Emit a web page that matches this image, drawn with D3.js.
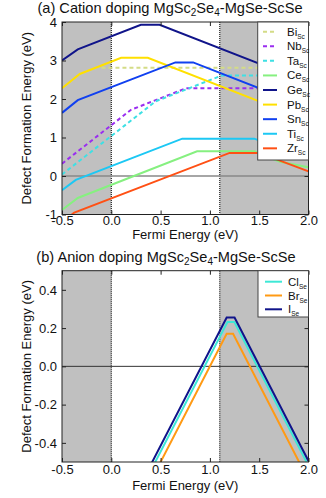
<!DOCTYPE html>
<html>
<head>
<meta charset="utf-8">
<script src="https://cdn.jsdelivr.net/npm/d3@7"></script>
<style>
  body { margin: 0; background: #fff; }
  svg { font-family: "Liberation Sans", Arial, sans-serif; }
</style>
</head>
<body>
<svg id="chart" width="326" height="498"></svg>
<script>
// ---- data (Fermi energy in eV, formation energy in eV) ----
var fermiTicks = [-0.5, 0.0, 0.5, 1.0, 1.5, 2.0];
var cationTicks = [-1, 0, 1, 2, 3, 4];
var anionTicks = [-0.4, -0.2, 0.0, 0.2, 0.4];
var gapEdges = [0.0, 1.1];

var biSc = [[-0.1, 2.81], [2.0, 2.81]];
var nbSc = [[-0.5, 0.32], [0.2, 1.72], [0.76, 2.28], [2.0, 2.28]];
var taSc = [[-0.5, 0.04], [0.45, 1.94], [1.12, 2.61], [2.0, 2.61]];
var ceSc = [[-0.5, -0.88], [-0.34, -0.57], [0.87, 0.64], [1.45, 0.64], [1.71, 0.37], [2.0, 0.23]];
var geSc = [[-0.5, 3.0], [-0.34, 3.29], [0.3, 3.93], [0.49, 3.93], [2.0, 2.42]];
var pbSc = [[-0.5, 2.28], [-0.32, 2.65], [0.1, 3.07], [0.37, 3.07], [2.0, 1.44]];
var snSc = [[-0.5, 1.64], [-0.34, 1.97], [0.65, 2.95], [0.83, 2.95], [2.0, 1.78]];
var tiSc = [[-0.5, -0.37], [-0.36, -0.1], [0.72, 0.97], [1.45, 0.97], [2.0, 0.45]];
var zrSc = [[-0.5, -1.2], [-0.375, -0.95], [1.2, 0.6], [1.52, 0.6], [1.71, 0.4], [2.0, 0.12]];

var clSe = [[0.42, -0.526], [1.178, 0.232], [1.248, 0.232], [2.0, -0.52]];
var brSe = [[0.47, -0.53], [1.17, 0.17], [1.235, 0.17], [2.0, -0.595]];
var iSe = [[0.38, -0.535], [1.17, 0.255], [1.25, 0.255], [2.0, -0.495]];

var cationSeries = [
  { el: "Bi", sub: "Sc", pts: biSc, color: "#d4dc86", dash: true },
  { el: "Nb", sub: "Sc", pts: nbSc, color: "#9a2ef0", dash: true },
  { el: "Ta", sub: "Sc", pts: taSc, color: "#3ee0e4", dash: true },
  { el: "Ce", sub: "Sc", pts: ceSc, color: "#86f080" },
  { el: "Ge", sub: "Sc", pts: geSc, color: "#10148a" },
  { el: "Pb", sub: "Sc", pts: pbSc, color: "#ffe000" },
  { el: "Sn", sub: "Sc", pts: snSc, color: "#1040f0" },
  { el: "Ti", sub: "Sc", pts: tiSc, color: "#1cc8f4" },
  { el: "Zr", sub: "Sc", pts: zrSc, color: "#ff5014" }
];
var anionSeries = [
  { el: "Cl", sub: "Se", pts: clSe, color: "#3ee8d6" },
  { el: "Br", sub: "Se", pts: brSe, color: "#ff9a14" },
  { el: "I", sub: "Se", pts: iSe, color: "#10148a" }
];

var svg = d3.select("#chart");
var left = 62, right = 308.5;

function fmtX(d) { return d.toFixed(1); }

// draws one panel
function panel(opt) {
  var x = d3.scaleLinear().domain([-0.5, 2.0]).range([left, right]);
  var y = d3.scaleLinear().domain(opt.yDomain).range([opt.bottom, opt.top]);
  var g = svg.append("g");
  var h = opt.bottom - opt.top;

  // shaded regions outside the gap
  g.append("rect").attr("x", x(-0.5)).attr("y", opt.top)
    .attr("width", x(gapEdges[0]) - x(-0.5)).attr("height", h).attr("fill", "#c0c0c0");
  g.append("rect").attr("x", x(gapEdges[1])).attr("y", opt.top)
    .attr("width", x(2.0) - x(gapEdges[1])).attr("height", h).attr("fill", "#c0c0c0");

  // dotted gap edges
  gapEdges.forEach(function(e) {
    g.append("line").attr("x1", x(e)).attr("x2", x(e))
      .attr("y1", opt.top).attr("y2", opt.bottom)
      .attr("stroke", "#222").attr("stroke-width", 1.2).attr("stroke-dasharray", "1,1");
  });

  // zero line
  g.append("line").attr("x1", left).attr("x2", right)
    .attr("y1", y(0)).attr("y2", y(0))
    .attr("stroke", opt.zeroColor).attr("stroke-width", opt.zeroWidth);

  var clipId = "clip" + opt.name;
  svg.append("clipPath").attr("id", clipId).append("rect")
    .attr("x", left).attr("y", opt.top).attr("width", right - left).attr("height", h);

  var line = d3.line().x(function(d) { return x(d[0]); }).y(function(d) { return y(d[1]); });

  g.append("g").attr("clip-path", "url(#" + clipId + ")")
    .selectAll("path").data(opt.series).enter().append("path")
    .attr("d", function(d) { return line(d.pts); })
    .attr("fill", "none")
    .attr("stroke", function(d) { return d.color; })
    .attr("stroke-width", 2)
    .attr("stroke-dasharray", function(d) { return d.dash ? "4,3" : null; });

  // axes, ticks pointing inwards
  var axB = g.append("g").attr("transform", "translate(0," + opt.bottom + ")")
    .call(d3.axisBottom(x).tickValues(fermiTicks).tickSize(-4).tickPadding(opt.xPad).tickFormat(fmtX));
  var axT = g.append("g").attr("transform", "translate(0," + opt.top + ")")
    .call(d3.axisTop(x).tickValues(fermiTicks).tickSize(-4).tickFormat(""));
  var axL = g.append("g").attr("transform", "translate(" + left + ",0)")
    .call(d3.axisLeft(y).tickValues(opt.yTicks).tickSize(-4).tickPadding(5).tickFormat(opt.yFmt));
  var axR = g.append("g").attr("transform", "translate(" + right + ",0)")
    .call(d3.axisRight(y).tickValues(opt.yTicks).tickSize(-4).tickFormat(""));
  [axB, axT, axL, axR].forEach(function(a) {
    a.select(".domain").remove();
    a.selectAll("line").attr("stroke", "#222");
    a.selectAll("text").attr("font-size", 13).attr("fill", "#111")
      .attr("font-family", "Liberation Sans, Arial, sans-serif");
  });

  g.append("rect").attr("x", left).attr("y", opt.top)
    .attr("width", right - left).attr("height", h)
    .attr("fill", "none").attr("stroke", "#222").attr("stroke-width", 1);

  // legend
  var lg = g.append("g");
  lg.append("rect").attr("x", opt.legX).attr("y", opt.top)
    .attr("width", right - opt.legX).attr("height", opt.legBottom - opt.top)
    .attr("fill", "#fff").attr("stroke", "#444").attr("stroke-width", 1);
  opt.series.forEach(function(s, i) {
    var ly = opt.legY0 + i * opt.legStep;
    lg.append("line").attr("x1", opt.legLine[0]).attr("x2", opt.legLine[1])
      .attr("y1", ly).attr("y2", ly)
      .attr("stroke", s.color).attr("stroke-width", 2)
      .attr("stroke-dasharray", s.dash ? "4,3" : null);
    var t = lg.append("text").attr("x", opt.legText).attr("y", ly + 4)
      .attr("font-size", 11.5).attr("fill", "#111");
    t.append("tspan").text(s.el);
    t.append("tspan").attr("font-size", 6.5).attr("dy", 3).text(s.sub);
  });

  // titles
  svg.append("text").attr("x", (left + right) / 2).attr("y", opt.bottom + opt.xLabelGap)
    .attr("text-anchor", "middle").attr("font-size", 13).attr("fill", "#111")
    .text("Fermi Energy (eV)");
  svg.append("text")
    .attr("transform", "translate(31," + (opt.top + opt.bottom) / 2 + ") rotate(-90)")
    .attr("text-anchor", "middle").attr("font-size", 13).attr("fill", "#111")
    .text("Defect Formation Energy (eV)");

  var tt = svg.append("text").attr("x", opt.titleX).attr("y", opt.titleY)
    .attr("text-anchor", "middle").attr("font-size", 14.6).attr("fill", "#111");
  tt.append("tspan").text(opt.title + " MgSc");
  tt.append("tspan").attr("font-size", 10).attr("dy", 3).text("2");
  tt.append("tspan").attr("dy", -3).text("Se");
  tt.append("tspan").attr("font-size", 10).attr("dy", 3).text("4");
  tt.append("tspan").attr("dy", -3).text("-MgSe-ScSe");
}

panel({
  name: "a", top: 22, bottom: 214.5, yDomain: [-1, 4], yTicks: cationTicks,
  yFmt: function(d) { return String(d); },
  series: cationSeries, zeroColor: "#888", zeroWidth: 1.5, xPad: 1, xLabelGap: 24.5,
  legX: 257.7, legBottom: 160, legY0: 31.7, legStep: 14.58, legLine: [263, 277], legText: 287,
  title: "(a) Cation doping", titleX: 170, titleY: 13
});

panel({
  name: "b", top: 270.7, bottom: 462, yDomain: [-0.5, 0.5], yTicks: anionTicks,
  yFmt: function(d) { return d.toFixed(1); },
  series: anionSeries, zeroColor: "#333", zeroWidth: 1, xPad: 3, xLabelGap: 27.5,
  legX: 258, legBottom: 317, legY0: 281.7, legStep: 13.8, legLine: [265, 282], legText: 288,
  title: "(b) Anion doping", titleX: 166, titleY: 262
});
</script>
</body>
</html>
